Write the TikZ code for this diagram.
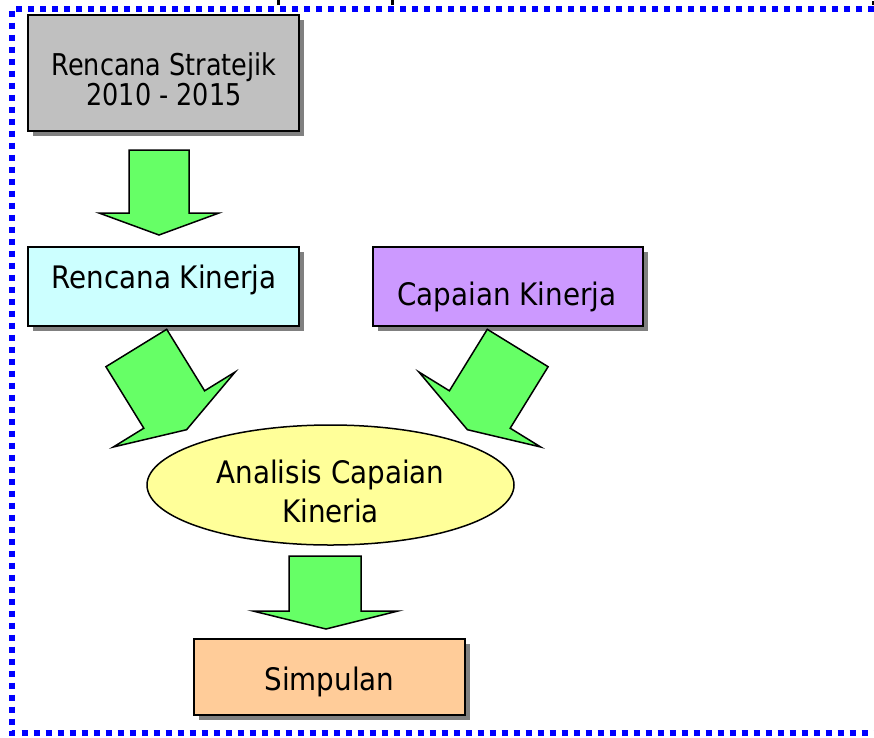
\documentclass[tikz,border=0pt]{standalone}
\usepackage{fontspec}
\setmainfont{DejaVu Sans}[FakeStretch=0.896]
\newfontfamily\grayfont{DejaVu Sans}[FakeStretch=0.85]
\usetikzlibrary{shapes.geometric,shadows}
\definecolor{bordblue}{HTML}{0000FF}
\definecolor{grayfill}{HTML}{C0C0C0}
\definecolor{cyanfill}{HTML}{CCFFFF}
\definecolor{purplefill}{HTML}{CC99FF}
\definecolor{yellowfill}{HTML}{FFFF99}
\definecolor{orangefill}{HTML}{FFCC99}
\definecolor{arrowgreen}{HTML}{66FF66}
\definecolor{shadowgray}{HTML}{808080}
\begin{document}
\begin{tikzpicture}[x=1pt,y=-1pt,
  boxshape/.style={draw=black, line width=2pt, rectangle, inner sep=0pt,
    drop shadow={shadow xshift=5pt, shadow yshift=-5pt, fill=shadowgray, opacity=1}},
  ovalshape/.style={draw=black, line width=1.5pt, ellipse, inner sep=0pt, fill=yellowfill},
  txt/.style={anchor=base, inner sep=0pt, font=\fontsize{31}{37}\selectfont},
  txtsmall/.style={anchor=base, inner sep=0pt, font=\grayfont\fontsize{30}{36}\selectfont},
  garrow/.style={fill=arrowgreen, draw=black, line width=1.5pt, line join=miter},
  tick/.style={draw=black, line width=3pt}]
\useasboundingbox (0,0) rectangle (874,737);

% boxes
\node[boxshape, fill=grayfill, minimum width=271pt, minimum height=116pt] (strat) at (163.5,73) {};
\node[boxshape, fill=cyanfill, minimum width=271pt, minimum height=79pt] (renc) at (163.5,286.5) {};
\node[boxshape, fill=purplefill, minimum width=270pt, minimum height=79pt] (capa) at (508,286.5) {};
\node[ovalshape, minimum width=367pt, minimum height=120pt] (anal) at (330.5,485) {};
\node[boxshape, fill=orangefill, minimum width=271pt, minimum height=76pt] (simp) at (329.5,677) {};

% texts
\node[txtsmall] (t1) at (164,75) {Rencana Stratejik};
\node[txtsmall] (t2) at (164,105) {2010 - 2015};
\node[txt] (t3) at (164,288) {Rencana Kinerja};
\node[txt] (t4) at (507,305) {Capaian Kinerja};
\node[txt] (t5) at (330.5,483) {Analisis Capaian};
\node[txt] (t6) at (330.5,522) {Kineria};
\node[txt] (t7) at (329.5,690) {Simpulan};

% block arrows
\draw[garrow] (129,150) -- (189,150) -- (189,213) -- (219,213) -- (159,235) -- (99,213) -- (129,213) -- cycle;
\draw[garrow] (166.7,329.3) -- (204.6,390.8) -- (235.1,372) -- (186.6,429.7) -- (113.3,447) -- (143.8,428.2) -- (105.9,366.7) -- cycle;
\draw[garrow] (487.3,329.3) -- (449.4,390.8) -- (418.9,372) -- (467.4,429.7) -- (540.7,447) -- (510.2,428.2) -- (548.1,366.7) -- cycle;
\draw[garrow] (289,556) -- (361,556) -- (361,611) -- (398,611) -- (326,629) -- (253,611) -- (289,611) -- cycle;

% dotted frame
\draw[bordblue, line width=6pt, dash pattern=on 6pt off 6pt] (874,8.5) -- (12,8.5) -- (12,733) -- (874,733);

% clipped marks at the top
\draw[tick] (278.5,0) -- (278.5,5);
\draw[tick] (392.5,0) -- (392.5,5);
\draw[tick] (873,1) -- (873,5);
\end{tikzpicture}
\end{document}
